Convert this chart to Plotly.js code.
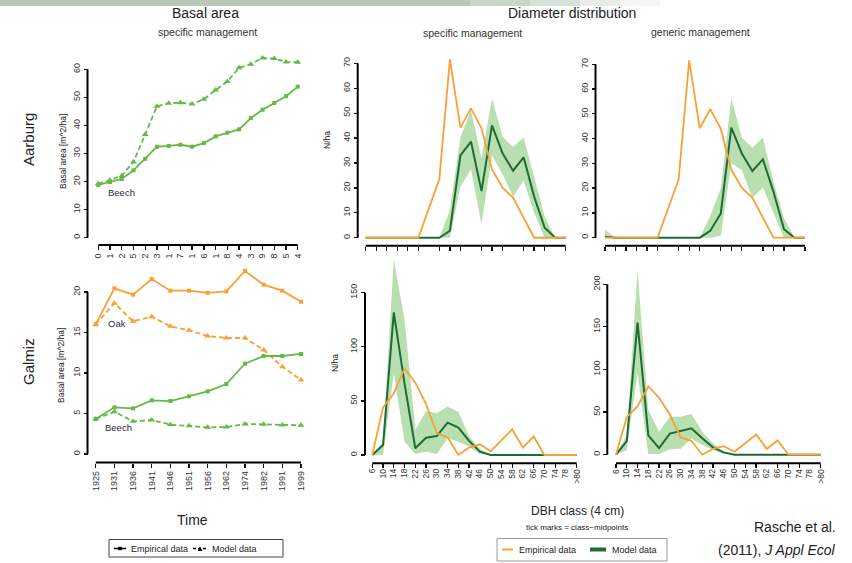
<!DOCTYPE html>
<html><head><meta charset="utf-8">
<script src="https://cdn.plot.ly/plotly-3.0.1.min.js"></script>
<style>html,body{margin:0;padding:0;background:#fff}#chart{width:852px;height:563px}</style>
</head><body><div id="chart"></div>
<script>
// ---------------- DATA ----------------
// Basal area, Aarburg (beech), visible last digits of the year tick labels
const aarburgTickText = ['0','1','2','5','2','3','1','7','1','6','1','8','4','3','9','8','5','4'];
const aarburgBeechEmp = [18.8,19.8,20.9,24.0,28.1,32.4,32.7,33.1,32.4,33.7,36.1,37.4,38.6,42.6,45.6,48.0,50.4,53.8];
const aarburgBeechMod = [19.2,20.5,22.1,27.0,36.8,46.8,47.9,48.1,47.6,49.3,52.6,55.6,60.5,61.8,64.0,63.8,62.6,62.5];

// Basal area, Galmiz
const galmizYears = ['1925','1931','1936','1941','1946','1951','1956','1962','1974','1982','1991','1999'];
const galmizOakEmp = [16.0,20.45,19.67,21.6,20.16,20.16,19.9,20.08,22.6,20.9,20.16,18.8];
const galmizOakMod = [16.0,18.6,16.4,16.95,15.76,15.27,14.57,14.32,14.32,12.84,10.78,9.14];
const galmizBeechEmp = [4.32,5.76,5.64,6.63,6.54,7.12,7.74,8.64,11.15,12.1,12.1,12.35];
const galmizBeechMod = [4.32,5.23,4.03,4.2,3.62,3.5,3.29,3.33,3.7,3.66,3.58,3.54];

// Diameter distribution (N/ha per DBH class)
const dbhClasses = ['6','10','14','18','22','26','30','34','38','42','46','50','54','58','62','66','70','74','78','>80'];

const aarEmp      = [0,0,0,0,0,0,11.8,23.6,71.6,44.2,51.9,43.9,27.4,20.1,16.1,8.0,0,0,0,0];
const aarSpecMean = [0,0,0,0,0,0,0,0,2.8,33,38.6,18.7,45.1,33.9,26.9,32.3,16.5,4,0,0];
const aarSpecLow  = [0,0,0,0,0,0,0,0,0,20.5,27.5,5.5,33,25.5,16.5,23,10,0,0,0];
const aarSpecHigh = [0,0,0,0,0,0,0,0,11,40.3,51.3,32,56,40.5,36.5,40.2,24.5,8.4,0,0];
const aarGenMean  = [0.4,0,0,0,0,0,0,0,0,0,2.8,9.8,44.4,34,26.9,31.6,18.6,3.4,0,0];
const aarGenLow   = [0,0,0,0,0,0,0,0,0,0,0,0.8,30,27.3,15.9,20.3,9.8,0,0,0];
const aarGenHigh  = [3.2,0,0,0,0,0,0,0,0,0,8.7,20,56.3,40.4,36.3,40.4,22.6,7.8,0,0];

const galEmp      = [0,44,57,80,66.8,47.1,20,16.3,0,6.8,9.9,3.4,13.5,23.7,6.8,17,0,0,0,0];
const galSpecMean = [0,9.2,131.8,66,6.2,16,17.5,29.9,25.3,13,3.1,0,0,0,0,0,0,0,0,0];
const galSpecLow  = [0,0,75,12.3,1,3,1,15.4,12.3,7.7,1,0,0,0,0,0,0,0,0,0];
const galSpecHigh = [0,12,180.8,124.7,23,40.6,38.5,44.7,40,17,6,0,0,0,0,0,0,0,0,0];
const galGenMean  = [0,16,155,22.7,7.8,24.7,27.8,30.9,19.2,8.6,2.7,0,0,0,0,0,0,0,0,0];
const galGenLow   = [0,5.5,95.5,0.8,0.8,6.3,7,19,11.4,5.5,0.8,0,0,0,0,0,0,0,0,0];
const galGenHigh  = [0,23,216.8,52.4,27,44.6,44.6,47.7,27,13.3,3.5,0,0,0,0,0,0,0,0,0];

const legendLabels = ['Empirical data', 'Model data'];

// ---------------- STYLE / LAYOUT ----------------
const W = 852, H = 563;
const px2x = p => p / W, px2y = p => 1 - p / H;
const fontMain = 'Liberation Sans, Arial, sans-serif';
const lightGreen = '#64B947';
const orange = '#F7A136';
const darkGreen = '#1F6B35';
const bandFill = 'rgba(125,196,110,0.55)';
const dashStyle = '5px,3px';
const aarIdx = aarburgTickText.map((_, i) => i);
const yearIdx = galmizYears.map((_, i) => i);
const dbhIdx = dbhClasses.map((_, i) => i);

function xAx(d0, d1, range, linePx, extra) {
  return Object.assign({
    domain: [px2x(d0), px2x(d1)], range: range, anchor: 'free', position: px2y(linePx),
    showline: false, zeroline: false, showgrid: false, ticks: 'outside', ticklen: 4,
    tickwidth: 1.3, tickcolor: '#111', tickangle: -90, fixedrange: true,
    tickfont: {family: fontMain, size: 9, color: '#333'}
  }, extra || {});
}
function yAx(bPx, tPx, range, linePx, dtick) {
  return {
    domain: [px2y(bPx), px2y(tPx)], range: range, anchor: 'free', position: px2x(linePx),
    showline: false, zeroline: false, showgrid: false, ticks: 'outside', ticklen: 4,
    tickwidth: 1.3, tickcolor: '#111', tickangle: -90, tick0: 0, dtick: dtick, fixedrange: true,
    tickfont: {family: fontMain, size: 9, color: '#333'}
  };
}
// DBH axes: ticks at every class; labels are placed per class below (too dense for auto labels)
const dbhTicks = {type: 'category', tickmode: 'array', tickvals: dbhIdx, ticktext: dbhClasses, showticklabels: false};

const layout = {
  width: W, height: H, margin: {l: 0, r: 0, t: 0, b: 0},
  paper_bgcolor: '#fff', plot_bgcolor: 'rgba(0,0,0,0)', showlegend: false,
  xaxis:  xAx(92.4, 303.6, [-0.5, 17.5], 245, {tickmode: 'array', tickvals: aarIdx, ticktext: aarburgTickText}),
  yaxis:  yAx(244.7, 46.8, [-2.5, 68], 87.5, 10),
  xaxis2: xAx(86.4, 310.3, [-0.5, 11.5], 462.5, {type: 'category', tickmode: 'array', tickvals: yearIdx, ticktext: galmizYears}),
  yaxis2: yAx(462.1, 263.65, [-1, 23.5], 87.5, 5),
  xaxis3: xAx(360.4, 571, [-0.5, 19.5], 245.7, dbhTicks),
  yaxis3: yAx(245.2, 50.9, [-3, 75], 357.7, 10),
  xaxis4: xAx(599.7, 810.3, [-0.5, 19.5], 245.7, dbhTicks),
  yaxis4: yAx(245.1, 51.9, [-3, 75], 595.5, 10),
  xaxis5: xAx(366.9, 582.1, [-0.5, 19.5], 463.3, dbhTicks),
  yaxis5: yAx(460.4, 254.8, [-5, 185], 365, 50),
  xaxis6: xAx(610.6, 826.1, [-0.5, 19.5], 463.3, dbhTicks),
  yaxis6: yAx(459.8, 262.9, [-6, 225], 607.3, 50),
  shapes: [],
  annotations: []
};

// R-style axis lines spanning first..last tick
function axisLines(xa, ya, xLast, yTop, xlinePx, ylinePx) {
  layout.shapes.push({type: 'line', xref: xa, yref: 'paper', x0: 0, x1: xLast,
    y0: px2y(xlinePx), y1: px2y(xlinePx), line: {color: '#000', width: 2}});
  layout.shapes.push({type: 'line', xref: 'paper', yref: ya, x0: px2x(ylinePx), x1: px2x(ylinePx),
    y0: 0, y1: yTop, line: {color: '#000', width: 2}});
}
axisLines('x', 'y', aarIdx.length - 1, 60, 245, 87.5);
axisLines('x2', 'y2', yearIdx.length - 1, 20, 462.5, 87.5);
axisLines('x3', 'y3', dbhIdx.length - 1, 70, 245.7, 357.7);
axisLines('x4', 'y4', dbhIdx.length - 1, 70, 245.7, 595.5);
axisLines('x5', 'y5', dbhIdx.length - 1, 150, 463.3, 365);
axisLines('x6', 'y6', dbhIdx.length - 1, 200, 463.3, 607.3);

// faint greenish strip at the very top (background photo remnant)
const stripSteps = [[0, 470, 0.55], [470, 530, 0.42], [530, 580, 0.3], [580, 620, 0.18], [620, 660, 0.08]];
stripSteps.forEach(s => layout.shapes.push({type: 'rect', xref: 'paper', yref: 'paper', layer: 'below',
  x0: px2x(s[0]), x1: px2x(s[1]), y0: px2y(6), y1: 1, line: {width: 0}, fillcolor: '#7f9a80', opacity: s[2]}));

function ann(text, xPx, yPx, size, opts) {
  layout.annotations.push(Object.assign({text: text, x: px2x(xPx), y: px2y(yPx), xref: 'paper', yref: 'paper',
    showarrow: false, xanchor: 'center', yanchor: 'middle',
    font: {family: fontMain, size: size, color: '#222'}}, opts || {}));
}
// DBH class labels under the lower diameter panels, positioned by the x axes
['x5', 'x6'].forEach(xa => dbhClasses.forEach((c, i) => layout.annotations.push({
  text: c, xref: xa, x: i, yref: 'paper', y: px2y(467.5), xanchor: 'center', yanchor: 'top',
  textangle: -90, showarrow: false, borderpad: 0, font: {family: fontMain, size: 8.5, color: '#333'}})));

const subFont = {family: fontMain, size: 10.5, color: '#333'};
const labFont = {family: fontMain, size: 9.5, color: '#2a2a3a'};
ann('Basal area', 205, 13, 14);
ann('specific management', 207, 32, 10.5, {font: subFont});
ann('Diameter distribution', 572, 13, 14);
ann('specific management', 472, 33, 10.5, {font: subFont});
ann('generic management', 700, 32, 10.5, {font: subFont});
ann('Aarburg', 28, 140, 15, {textangle: -90});
ann('Galmiz', 28, 362, 15, {textangle: -90});
ann('Basal area [m^2/ha]', 63, 152, 8.5, {textangle: -90});
ann('Basal area [m^2/ha]', 61, 366, 8.5, {textangle: -90});
ann('N/ha', 327, 140, 8.5, {textangle: -90});
ann('N/ha', 335, 363, 8.5, {textangle: -90});
ann('Beech', 121, 192, 9.5, {font: labFont});
ann('Oak', 117, 323, 9.5, {font: labFont});
ann('Beech', 118, 427, 9.5, {font: labFont});
ann('Time', 192, 520, 14);
ann('DBH class (4 cm)', 577, 511, 12);
ann('tick marks = class\u2212midpoints', 577, 527, 8);
ann('Rasche et al.', 838, 527, 14, {xanchor: 'right'});
ann('(2011), <i>J Appl Ecol</i>', 838, 550, 14, {xanchor: 'right'});

// ---- legends (boxes with glyphs and labels) ----
function pline(x0, x1, y, color, width, dash) {
  layout.shapes.push({type: 'line', xref: 'paper', yref: 'paper', x0: px2x(x0), x1: px2x(x1),
    y0: px2y(y), y1: px2y(y), line: {color: color, width: width, dash: dash || 'solid'}});
}
function box(x0, x1, y0, y1, color) {
  layout.shapes.push({type: 'rect', xref: 'paper', yref: 'paper', x0: px2x(x0), x1: px2x(x1),
    y0: px2y(y1), y1: px2y(y0), line: {color: color, width: 1}, fillcolor: 'rgba(0,0,0,0)'});
}
const legFont = {family: fontMain, size: 9, color: '#222'};
// left legend
box(109, 283, 539.5, 557, '#444');
pline(114, 126, 548.5, '#000', 1.5);
layout.shapes.push({type: 'rect', xref: 'paper', yref: 'paper', x0: px2x(118.3), x1: px2x(121.7),
  y0: px2y(550.2), y1: px2y(546.8), line: {width: 0}, fillcolor: '#000'});
ann(legendLabels[0], 129, 548.5, 9, {xanchor: 'left', font: legFont});
pline(193, 207, 548.5, '#000', 1.5, '3px,2px');
layout.shapes.push({type: 'path', xref: 'paper', yref: 'paper', line: {width: 0}, fillcolor: '#000',
  path: `M ${px2x(197.6)} ${px2y(551)} L ${px2x(202.4)} ${px2y(551)} L ${px2x(200)} ${px2y(546.3)} Z`});
ann(legendLabels[1], 210, 548.5, 9, {xanchor: 'left', font: legFont});
// right legend
box(497, 667, 538.5, 561, '#999');
pline(502, 513, 549.5, orange, 2);
ann(legendLabels[0], 517, 549.5, 9, {xanchor: 'left', font: legFont});
pline(590, 606, 549.5, darkGreen, 4);
ann(legendLabels[1], 610, 549.5, 9, {xanchor: 'left', font: legFont});

// ---------------- TRACES ----------------
const traces = [];
function basal(x, y, color, model, xa, ya) {
  traces.push({type: 'scatter', x: x, y: y, xaxis: xa, yaxis: ya, mode: 'lines+markers', showlegend: false,
    hoverinfo: 'skip', cliponaxis: false,
    line: {color: color, width: 1.8, dash: model ? dashStyle : 'solid'},
    marker: {color: color, symbol: model ? 'triangle-up' : 'square', size: model ? 6 : 4}});
}
basal(aarIdx, aarburgBeechEmp, lightGreen, false, 'x', 'y');
basal(aarIdx, aarburgBeechMod, lightGreen, true, 'x', 'y');
basal(galmizYears, galmizOakEmp, orange, false, 'x2', 'y2');
basal(galmizYears, galmizOakMod, orange, true, 'x2', 'y2');
basal(galmizYears, galmizBeechEmp, lightGreen, false, 'x2', 'y2');
basal(galmizYears, galmizBeechMod, lightGreen, true, 'x2', 'y2');

function dist(low, high, mean, emp, xa, ya) {
  traces.push({type: 'scatter', x: dbhClasses, y: low, xaxis: xa, yaxis: ya, mode: 'lines',
    line: {width: 0, color: 'rgba(0,0,0,0)'}, showlegend: false, hoverinfo: 'skip'});
  traces.push({type: 'scatter', x: dbhClasses, y: high, xaxis: xa, yaxis: ya, mode: 'lines', fill: 'tonexty',
    fillcolor: bandFill, line: {width: 0, color: 'rgba(0,0,0,0)'}, showlegend: false, hoverinfo: 'skip'});
  traces.push({type: 'scatter', x: dbhClasses, y: mean, xaxis: xa, yaxis: ya, mode: 'lines',
    line: {color: darkGreen, width: 2}, showlegend: false, hoverinfo: 'skip'});
  traces.push({type: 'scatter', x: dbhClasses, y: emp, xaxis: xa, yaxis: ya, mode: 'lines',
    line: {color: orange, width: 1.8}, showlegend: false, hoverinfo: 'skip'});
}
dist(aarSpecLow, aarSpecHigh, aarSpecMean, aarEmp, 'x3', 'y3');
dist(aarGenLow, aarGenHigh, aarGenMean, aarEmp, 'x4', 'y4');
dist(galSpecLow, galSpecHigh, galSpecMean, galEmp, 'x5', 'y5');
dist(galGenLow, galGenHigh, galGenMean, galEmp, 'x6', 'y6');

Plotly.newPlot('chart', traces, layout, {staticPlot: true, displayModeBar: false});
</script>
</body></html>
